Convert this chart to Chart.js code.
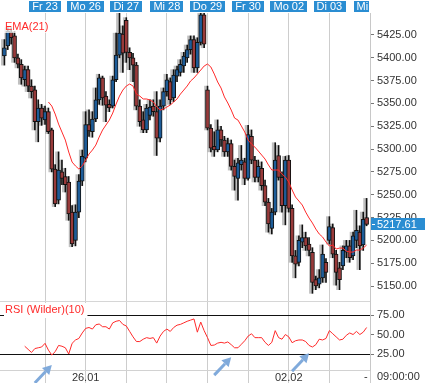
<!DOCTYPE html>
<html><head><meta charset="utf-8">
<script src="https://cdn.jsdelivr.net/npm/chart.js@4.4.1/dist/chart.umd.min.js"></script>
<style>html,body{margin:0;padding:0;background:#fff;}#wrap{width:425px;height:383px;}</style>
</head><body><div id="wrap"><canvas id="c" width="425" height="383"></canvas></div>
<script>
// ---- data (hourly-ish candles, 12 per trading day, first day Do 22 unlabeled) ----
const barsPerDay = 12;
const dayLabels = ['Fr 23','Mo 26','Di 27','Mi 28','Do 29','Fr 30','Mo 02','Di 03','Mi 04'];
const dateTickLabels = ['','26.01','','','','','02.02','',''];
const priceTicks = [5150,5175,5200,5225,5250,5275,5300,5325,5350,5375,5400,5425];
const rsiTicks = [25,50,75];
const rsiLevels = [25,75];
const lastPriceLabel = '5217.61';
const timeLabel = '09:00:00';

const open = [5402,5413,5428,5424,5400,5393,5376,5387,5369,5365,5330,5345,
5332,5341,5321,5278,5244,5275,5270,5264,5231,5200,5231,5265,
5290,5327,5319,5333,5354,5378,5358,5349,5347,5376,5403,5426,
5441,5406,5400,5392,5347,5332,5321,5337,5347,5341,5312,5347,
5363,5374,5356,5380,5384,5391,5400,5409,5420,5389,5417,5447,
5365,5323,5303,5299,5321,5310,5297,5306,5281,5268,5283,5286,
5268,5314,5288,5269,5279,5260,5242,5213,5231,5293,5269,5238,
5288,5235,5183,5176,5198,5203,5196,5187,5157,5152,5159,5176,
5200,5214,5185,5170,5172,5187,5194,5183,5200,5209,5195,5225];
const high = [5420,5433,5433,5429,5404,5398,5391,5391,5376,5369,5354,5349,
5347,5345,5323,5283,5297,5288,5279,5270,5238,5239,5272,5299,
5341,5343,5341,5367,5382,5380,5363,5354,5380,5427,5450,5435,
5444,5411,5405,5395,5354,5341,5349,5354,5354,5363,5354,5367,
5382,5378,5387,5391,5398,5406,5414,5424,5424,5422,5456,5450,
5369,5327,5319,5332,5325,5314,5312,5310,5288,5290,5304,5290,
5326,5321,5292,5288,5286,5266,5246,5235,5307,5304,5275,5292,
5293,5239,5189,5205,5217,5209,5203,5192,5161,5168,5195,5180,
5226,5218,5189,5176,5194,5200,5200,5209,5233,5216,5231,5246];
const low = [5392,5409,5415,5395,5389,5371,5369,5363,5356,5321,5308,5326,
5327,5317,5275,5237,5240,5261,5253,5222,5193,5194,5225,5260,
5286,5314,5313,5330,5349,5348,5330,5341,5345,5374,5400,5384,
5395,5387,5374,5343,5325,5318,5318,5332,5336,5293,5308,5343,
5358,5349,5352,5374,5380,5384,5395,5404,5384,5384,5414,5411,
5321,5297,5292,5297,5303,5292,5292,5277,5255,5244,5277,5261,
5266,5284,5264,5264,5255,5238,5209,5207,5228,5266,5231,5217,
5231,5176,5159,5172,5192,5189,5183,5142,5146,5148,5154,5154,
5196,5181,5151,5146,5168,5181,5176,5179,5192,5168,5189,5216];
const close = [5411,5429,5422,5400,5393,5378,5387,5369,5363,5330,5345,5334,
5341,5319,5278,5240,5277,5268,5261,5229,5196,5231,5265,5292,
5327,5320,5333,5354,5378,5356,5348,5345,5376,5403,5427,5405,
5406,5400,5392,5347,5330,5321,5345,5346,5341,5312,5347,5363,
5376,5354,5381,5387,5393,5402,5409,5420,5389,5417,5447,5415,
5323,5301,5299,5321,5310,5297,5306,5281,5270,5285,5288,5268,
5316,5288,5269,5281,5260,5242,5218,5231,5288,5269,5238,5288,
5235,5183,5174,5200,5203,5194,5189,5154,5150,5159,5185,5165,
5215,5185,5165,5157,5189,5194,5181,5205,5211,5194,5223,5217.61];
const ema21 = [null,null,null,null,null,null,null,null,null,null,null,null,
null,5351.6,5347.2,5338.4,5327.4,5318.7,5309.9,5296.8,5285.8,5281.5,5278.2,5281.5,
5288,5294.6,5299,5304.4,5313.2,5320.9,5326.4,5331.8,5339.5,5349.4,5358.1,5364.7,
5369.1,5371.3,5369.1,5360.3,5358.1,5354.9,5354.9,5353.8,5351.6,5346.1,5342.8,5343.9,
5346.1,5348.3,5351.6,5354.9,5360.3,5364.7,5369.1,5374.6,5377.9,5382.2,5386.6,5391,
5393.2,5389.9,5382.2,5373.5,5366.9,5357.1,5350.5,5342.8,5334,5331.8,5325.3,5318.7,
5309.9,5305.5,5302.2,5297.9,5293.5,5289.1,5282.6,5277.1,5277.1,5277.1,5272.7,5269.4,
5264,5255.2,5247.5,5243.1,5238.7,5231,5224.5,5219,5212.4,5207,5203.7,5198.2,
5193.8,5194.9,5190.5,5191.6,5191.6,5188.3,5187.2,5187.2,5189.4,5189.4,5191.6,5194.9];
const rsi10 = [null,null,null,null,null,null,35,31,27,32,33,34,
38.7,30,23.7,28,36,35,33,25,38.7,43,45,52,
57.9,59,57,62.5,63.5,60,60,57,65,67,68,63,
61,54,47,41,41,44,46,45,46,39,48,54,
57,54,59,62,63,65,67,68.5,70,53,66,55,
46,36,36.5,39,40,39,40.5,37,33,33,37.5,42,
48,51,46,46,46,40,36,40,55,46,44,50,
47,39.5,42,43,43,41,36,34,37,44,43,45,
55,51,47,43,44,49,52,50,54,50,53,59];
// annotation arrows pointing at RSI lows (candle index, RSI level at tip)
const arrowTargets = [{i:14, v:11}, {i:67, v:21}, {i:90, v:26}];

// ---- style ----
const FONT = "Arial, 'Liberation Sans', sans-serif";
const UP = '#1d5c98', DOWN = '#983a3a', HEAD = '#2a8dd2', ARROW = '#80aadb';
Chart.defaults.font.family = FONT;

const idx = close.map((_, i) => i);
const bodyData = idx.map(i => ({x: i, y: [open[i], close[i]]}));
const wickData = idx.map(i => ({x: i, y: [low[i], high[i]]}));
const shadowData = idx.map(i => ({x: i, y: [low[i], high[i]]}));
const bodyColors = idx.map(i => close[i] >= open[i] ? UP : DOWN);
const lastClose = close[close.length - 1];

const decor = {
  id: 'decor',
  afterDraw(chart) {
    const {ctx, chartArea: a, scales} = chart;
    const xs = scales.x, py = scales.y, ry = scales.rsi;
    ctx.save();
    ctx.strokeStyle = '#d6d6d6'; ctx.lineWidth = 1;
    const sy = Math.round(ry.top) + 0.5;
    ctx.beginPath(); ctx.moveTo(0, sy); ctx.lineTo(a.right, sy); ctx.stroke();
    ctx.save();
    ctx.beginPath(); ctx.rect(0, 0, a.right - 1, a.top); ctx.clip();
    ctx.font = '11px ' + FONT; ctx.textBaseline = 'middle'; ctx.textAlign = 'center';
    dayLabels.forEach((lab, k) => {
      const x = xs.getPixelForValue((k + 1) * barsPerDay);
      const w = ctx.measureText(lab).width + 6;
      ctx.fillStyle = HEAD; ctx.fillRect(Math.round(x - w / 2), 1, Math.round(w), 11);
      ctx.fillStyle = '#fff'; ctx.fillText(lab, x, 7);
    });
    ctx.restore();
    ctx.font = '11px ' + FONT; ctx.textBaseline = 'middle'; ctx.textAlign = 'left';
    let w = ctx.measureText('EMA(21)').width;
    ctx.fillStyle = 'rgba(255,255,255,0.75)'; ctx.fillRect(3, 20, w + 4, 13);
    ctx.fillStyle = '#ff2a2a'; ctx.fillText('EMA(21)', 5, 27);
    const rl = 'RSI (Wilder)(10)';
    w = ctx.measureText(rl).width;
    ctx.fillStyle = '#fff'; ctx.fillRect(4, ry.top + 2, w + 4, 15);
    ctx.fillStyle = '#ff2a2a'; ctx.fillText(rl, 5, ry.top + 9);
    const ly = py.getPixelForValue(lastClose);
    ctx.fillStyle = HEAD; ctx.fillRect(a.right + 1, Math.round(ly - 6), 425 - a.right, 12);
    ctx.fillStyle = '#fff'; ctx.fillRect(a.right + 2, Math.round(ly), 3, 1);
    ctx.fillText(lastPriceLabel, a.right + 7, ly + 0.5);
    ctx.fillStyle = '#333';
    ctx.fillText('-', a.right - 6, 377);
    ctx.fillText(timeLabel, a.right + 7, 377);
    ctx.strokeStyle = ARROW; ctx.fillStyle = ARROW; ctx.lineWidth = 3;
    arrowTargets.forEach(t => {
      const tx = xs.getPixelForValue(t.i), ty = ry.getPixelForValue(t.v);
      const sx = tx - 17, sy2 = ty + 18;
      const ang = Math.atan2(ty - sy2, tx - sx);
      const hl = 9, hw = 5;
      const bx = tx - hl * Math.cos(ang), by = ty - hl * Math.sin(ang);
      ctx.beginPath(); ctx.moveTo(sx, sy2); ctx.lineTo(bx, by); ctx.stroke();
      ctx.beginPath(); ctx.moveTo(tx, ty);
      ctx.lineTo(bx + hw * Math.sin(ang), by - hw * Math.cos(ang));
      ctx.lineTo(bx - hw * Math.sin(ang), by + hw * Math.cos(ang));
      ctx.closePath(); ctx.fill();
    });
    ctx.restore();
  }
};

new Chart(document.getElementById('c'), {
  type: 'bar',
  data: {
    datasets: [
      {type: 'line', label: 'EMA(21)', data: idx.map(i => ({x: i, y: ema21[i]})), xAxisID: 'x', yAxisID: 'y',
       borderColor: '#ff2a2a', borderWidth: 1, pointRadius: 0, order: 0, tension: 0},
      {type: 'line', label: 'RSI (Wilder)(10)', data: idx.map(i => ({x: i, y: rsi10[i]})), xAxisID: 'x', yAxisID: 'rsi',
       borderColor: '#ff2a2a', borderWidth: 1, pointRadius: 0, order: 0, tension: 0},
      {label: 'body', data: bodyData, xAxisID: 'x', yAxisID: 'y', backgroundColor: bodyColors,
       borderColor: '#111', borderWidth: 1, borderSkipped: false, barThickness: 4, grouped: false, order: 1, minBarLength: 2},
      {label: 'wick', data: wickData, xAxisID: 'x', yAxisID: 'y', backgroundColor: '#111',
       barThickness: 1, grouped: false, order: 2},
      {label: 'shadow', data: shadowData, xAxisID: 'xs', yAxisID: 'y', backgroundColor: 'rgba(150,150,150,0.6)',
       barThickness: 2, grouped: false, order: 3}
    ]
  },
  options: {
    responsive: false, animation: false, devicePixelRatio: 1,
    layout: {padding: {top: 13, left: 0, right: 0, bottom: 0}},
    plugins: {legend: {display: false}, tooltip: {enabled: false}},
    scales: {
      x: {type: 'linear', position: 'bottom', min: -1.3, max: 108, offset: false,
          afterBuildTicks: s => { s.ticks = dayLabels.map((_, k) => ({value: (k + 1) * barsPerDay})); },
          afterFit: s => { s.height = 13; },
          ticks: {autoSkip: false, maxRotation: 0, padding: -12, color: '#333', font: {size: 11},
                  callback: v => dateTickLabels[Math.round(v / barsPerDay) - 1] || ''},
          grid: {color: '#cdcdcd', lineWidth: 1, drawTicks: true, tickLength: 13, offset: false, tickColor: '#cdcdcd'},
          border: {display: true, color: '#d2d2d2'}},
      xs: {type: 'linear', display: false, min: -1.3 + 0.6, max: 108 + 0.6, offset: false},
      y: {type: 'linear', position: 'right', stack: 'v', stackWeight: 288, min: 5133.6, max: 5449.1,
          afterBuildTicks: s => { s.ticks = priceTicks.map(v => ({value: v})); },
          afterFit: s => { s.width = 55; },
          ticks: {autoSkip: false, color: '#333', font: {size: 11}, padding: 3, callback: v => Number(v).toFixed(2)},
          grid: {drawOnChartArea: false, drawTicks: true, tickLength: 4, tickColor: '#777'},
          border: {display: true, color: '#c8c8c8', width: 1}},
      rsi: {type: 'linear', position: 'right', stack: 'v', stackWeight: 69, min: 4.5, max: 93,
          afterBuildTicks: s => { s.ticks = rsiTicks.map(v => ({value: v})); },
          afterFit: s => { s.width = 55; },
          ticks: {autoSkip: false, color: '#333', font: {size: 11}, padding: 3, callback: v => Number(v).toFixed(2)},
          grid: {drawOnChartArea: true, drawTicks: true, tickLength: 4, tickColor: '#777', lineWidth: 1,
                 color: c => (c.tick && rsiLevels.includes(c.tick.value)) ? '#111' : 'rgba(0,0,0,0)'},
          border: {display: true, color: '#c8c8c8', width: 1}}
    }
  },
  plugins: [decor]
});
</script></body></html>
